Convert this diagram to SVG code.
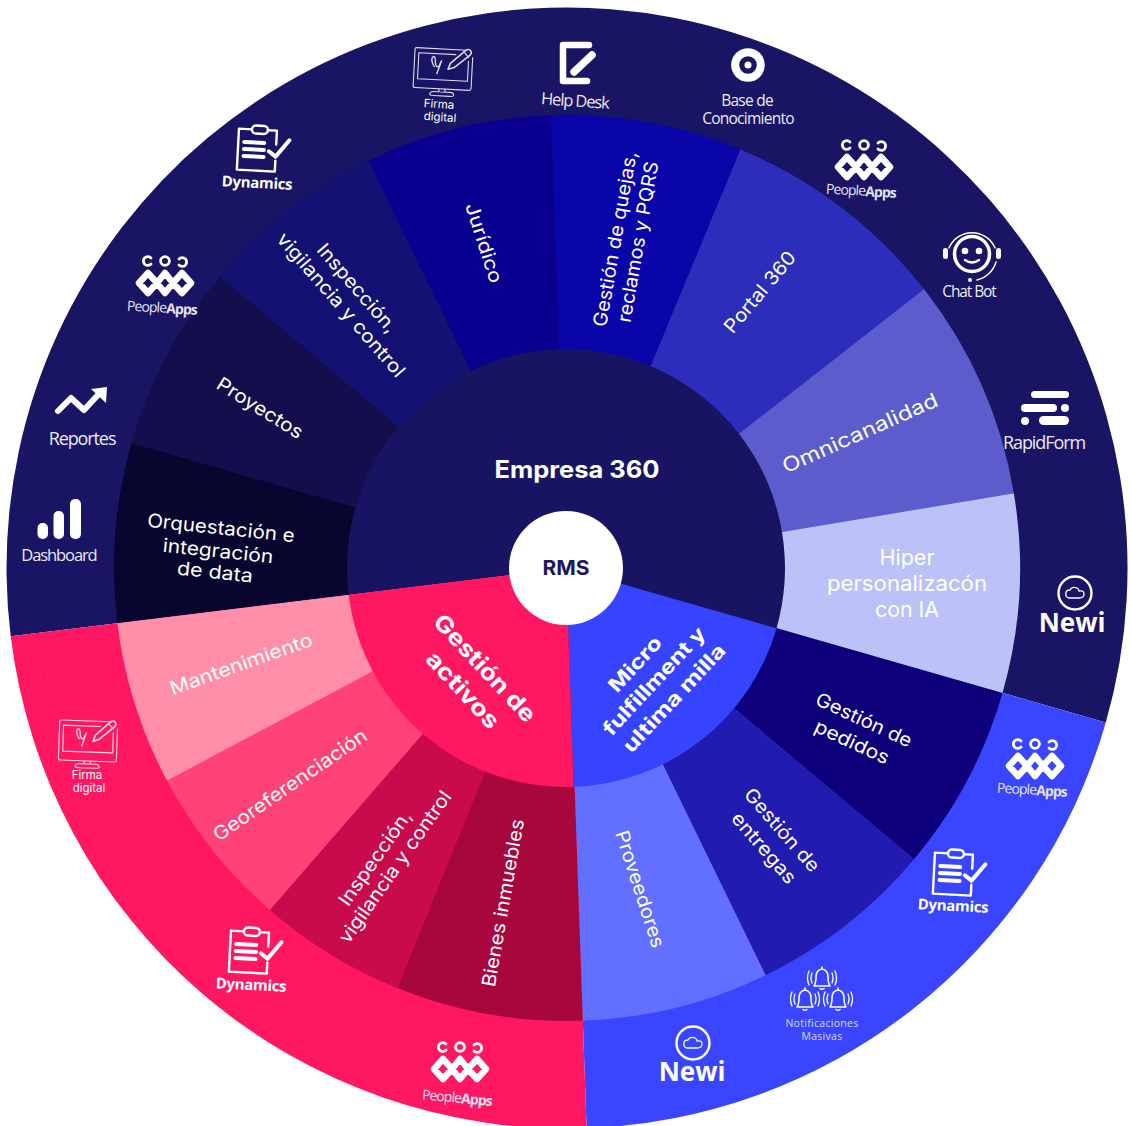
<svg xmlns="http://www.w3.org/2000/svg" width="1131" height="1126" viewBox="0 0 1131 1126">
<style>
text{font-family:"Inter","Liberation Sans",sans-serif;fill:#fff;text-anchor:middle;dominant-baseline:central}
.s{font-size:19px;font-weight:400}
.b{font-weight:700}
.o{font-family:"Open Sans","Liberation Sans",sans-serif;font-size:16.500px;letter-spacing:-1.100px;fill:#eceaf6}
.c{font-size:15.500px;letter-spacing:-.75px}
.d{font-family:"Open Sans","Liberation Sans",sans-serif;font-size:15px;font-weight:700;letter-spacing:-.3px}
.p{font-family:"Open Sans","Liberation Sans",sans-serif;font-size:14px;letter-spacing:-.9px;fill:#e4e2f2}
.f{font-size:11.500px;font-weight:400}
.n{font-family:"Open Sans","Liberation Sans",sans-serif;font-size:26px;font-weight:700}
.m{font-family:"Open Sans","Liberation Sans",sans-serif;font-size:10.500px;letter-spacing:.3px;fill:#d8dcff}
.ln{fill:none;stroke:#fff;stroke-linecap:round;stroke-linejoin:round}
</style>
<defs>
<g id="i-dyn">
<path class="ln" stroke-width="2.400" d="M-13-18H-26V23H12V12M3-18H12V-4"/>
<rect x="-13" y="-22" width="16" height="8" rx="4" fill="none" stroke="#fff" stroke-width="2.400"/>
<path class="ln" stroke-width="4" d="M-20-5H0M-20 2H0M-20 9H0"/>
<path class="ln" stroke-width="4" d="M5 3L12 8L25-9"/>
</g>
<g id="i-ppl">
<path class="ln" stroke-width="2.800" d="M-14-19A4.400 4.400 0 1 0-14-13"/>
<circle cx="0" cy="-16" r="4.400" fill="none" stroke="#fff" stroke-width="2.800"/>
<path class="ln" stroke-width="2.800" d="M14-18A4.400 4.400 0 1 1 14-12"/>
<path class="ln" stroke-width="6.500" d="M-17-4L-8 6L-17 16L-26 6ZM0-4L8 6L0 16L-8 6ZM17-4L26 6L17 16L8 6Z"/>
</g>
<g id="i-fir" stroke-width="1.100" opacity=".85">
<path class="ln" d="M22-21H-27Q-29-21-29-19V17Q-29 19-27 19H27Q29 19 29 17V-14"/>
<path class="ln" d="M12-16H-25V10H25V-10"/>
<path class="ln" d="M-3 19V22M3 19V22M-12 25Q-12 22-8 22H8Q12 22 12 25Q12 26 8 26H-8Q-12 26-12 25Z"/>
<path class="ln" stroke-width="1.400" d="M-9-3Q-14-11-10-13Q-8-13-8-7Q-7-1-4-4L-2-9L-6 4"/>
<path class="ln" stroke-width="1.600" d="M5-1L7-7L22-21Q25-23 27-20Q28-18 26-16L11-3Z"/>
<path class="ln" d="M20-19L25-14"/>
</g>
<g id="i-new">
<circle r="16.500" fill="none" stroke="#fff" stroke-width="2.400"/>
<path class="ln" stroke-width="1.300" d="M-6 5Q-10 4-9 0Q-9-3-5-3Q-3-7 2-5Q4-4 4-2Q9-3 9 1Q9 5 4 5Z"/>
</g>
<g id="i-bell">
<path class="ln" stroke-width="1.500" d="M-8 8Q-6 5-6-1Q-6-8 0-9Q6-8 6-1Q6 5 8 8ZM-2 10.500Q0 12 2 10.500M0-9V-11"/>
<path class="ln" stroke-width="1.300" d="M-10-5Q-12 0-10 5M-13-7Q-16 0-13 7M10-5Q12 0 10 5M13-7Q16 0 13 7"/>
</g>
</defs>

<g id="ring-navy"><path fill="#191464" d="M567 568L10.700 636.300A560.500 560.500 0 1 1 1105.800 722.500Z"/></g>
<g id="ring-blue"><path fill="#3A45FF" d="M567 568L1105.800 722.500A560.500 560.500 0 0 1 586.600 1128.200Z"/></g>
<g id="ring-pink"><path fill="#FF1761" d="M567 568L586.600 1128.200A560.500 560.500 0 0 1 10.700 636.300Z"/></g>
<circle cx="567" cy="568" r="534" fill="none" stroke="#000" stroke-opacity=".04"/>

<g id="orquestacion"><path fill="#08062E" d="M567 568L117.400 623.200A453 453 0 0 1 131.500 443.100Z"/>
<text class="s" transform="translate(221,528) rotate(6)" textLength="148" lengthAdjust="spacingAndGlyphs">Orquestación e</text>
<text class="s" transform="translate(218,551) rotate(6)" textLength="111" lengthAdjust="spacingAndGlyphs">integración</text>
<text class="s" transform="translate(215,572) rotate(6)" textLength="76" lengthAdjust="spacingAndGlyphs">de data</text></g>
<g id="proyectos"><path fill="#140E4C" d="M567 568L131.500 443.100A453 453 0 0 1 220 276.800Z"/>
<text class="s" transform="translate(260,408) rotate(32)" textLength="98" lengthAdjust="spacingAndGlyphs">Proyectos</text></g>
<g id="inspeccion-top"><path fill="#131272" d="M567 568L220 276.800A453 453 0 0 1 368.400 160.800Z"/>
<text class="s" transform="translate(357,288) rotate(49)" textLength="111" lengthAdjust="spacingAndGlyphs">Inspección,</text>
<text class="s" transform="translate(341,305) rotate(49)" textLength="184" lengthAdjust="spacingAndGlyphs">vigilancia y control</text></g>
<g id="juridico"><path fill="#0A0090" d="M567 568L368.400 160.800A453 453 0 0 1 551.200 115.300Z"/>
<text class="s" transform="translate(484,243) rotate(72)" textLength="83" lengthAdjust="spacingAndGlyphs">Jurídico</text></g>
<g id="quejas"><path fill="#0905A8" d="M567 568L551.200 115.300A453 453 0 0 1 740.400 149.500Z"/>
<text class="s" transform="translate(615,239) rotate(-80)" textLength="178" lengthAdjust="spacingAndGlyphs">Gestión de quejas,</text>
<text class="s" transform="translate(638,242) rotate(-80)" textLength="163" lengthAdjust="spacingAndGlyphs">reclamos y PQRS</text></g>
<g id="portal"><path fill="#2D2DBB" d="M567 568L740.400 149.500A453 453 0 0 1 924 289.100Z"/>
<text class="s" transform="translate(760,292) rotate(-50)" textLength="100" lengthAdjust="spacingAndGlyphs">Portal 360</text></g>
<g id="omnicanalidad"><path fill="#5C5CCC" d="M567 568L924 289.100A453 453 0 0 1 1013.800 493.200Z"/>
<text class="s" transform="translate(860,433) rotate(-24)" textLength="168" lengthAdjust="spacingAndGlyphs" style="font-size:20px">Omnicanalidad</text></g>
<g id="hiper"><path fill="#BCC1F8" d="M567 568L1013.800 493.200A453 453 0 0 1 1002.500 692.900Z"/>
<text class="s" x="907" y="557" textLength="55" lengthAdjust="spacingAndGlyphs" style="font-size:21px">Hiper</text>
<text class="s" x="907" y="583" textLength="160" lengthAdjust="spacingAndGlyphs" style="font-size:21px">personalizacón</text>
<text class="s" x="907" y="609" textLength="64" lengthAdjust="spacingAndGlyphs" style="font-size:21px">con IA</text></g>
<g id="pedidos"><path fill="#0D007A" d="M567 568L1002.500 692.900A453 453 0 0 1 914 859.200Z"/>
<text class="s" transform="translate(864,720) rotate(25)" textLength="104" lengthAdjust="spacingAndGlyphs">Gestión de</text>
<text class="s" transform="translate(852,742) rotate(25)" textLength="80" lengthAdjust="spacingAndGlyphs">pedidos</text></g>
<g id="entregas"><path fill="#211CAF" d="M567 568L914 859.200A453 453 0 0 1 765.600 975.200Z"/>
<text class="s" transform="translate(782,830) rotate(49)" textLength="104" lengthAdjust="spacingAndGlyphs">Gestión de</text>
<text class="s" transform="translate(764,848) rotate(49)" textLength="88" lengthAdjust="spacingAndGlyphs">entregas</text></g>
<g id="proveedores"><path fill="#6370FF" d="M567 568L765.600 975.200A453 453 0 0 1 582.800 1020.700Z"/>
<text class="s" transform="translate(640,889) rotate(72)" textLength="122" lengthAdjust="spacingAndGlyphs">Proveedores</text></g>
<g id="bienes"><path fill="#A7073D" d="M567 568L582.800 1020.700A453 453 0 0 1 397.300 988Z"/>
<text class="s" transform="translate(503,903) rotate(-80)" textLength="170" lengthAdjust="spacingAndGlyphs">Bienes inmuebles</text></g>
<g id="inspeccion-bottom"><path fill="#C90B4E" d="M567 568L397.300 988A453 453 0 0 1 269.800 909.900Z"/>
<text class="s" transform="translate(375,858) rotate(-55)" textLength="112" lengthAdjust="spacingAndGlyphs">Inspección,</text>
<text class="s" transform="translate(395,867) rotate(-55)" textLength="181" lengthAdjust="spacingAndGlyphs">vigilancia y control</text></g>
<g id="georeferenciacion"><path fill="#FF4378" d="M567 568L269.800 909.900A453 453 0 0 1 167 780.700Z"/>
<text class="s" transform="translate(290,785) rotate(-34.500)" textLength="182" lengthAdjust="spacingAndGlyphs">Georeferenciación</text></g>
<g id="mantenimiento"><path fill="#FF8FA9" d="M567 568L167 780.700A453 453 0 0 1 117.400 623.200Z"/>
<text class="s" transform="translate(241,664) rotate(-19.500)" textLength="150" lengthAdjust="spacingAndGlyphs">Mantenimiento</text></g>

<g id="empresa-360"><path fill="#181462" d="M566 568L348.600 594.700A219 219 0 1 1 776.500 628.400Z"/>
<text class="b" x="577" y="469" font-size="24" textLength="165" lengthAdjust="spacingAndGlyphs">Empresa 360</text></g>
<g id="micro"><path fill="#3644FF" d="M566 568L776.500 628.400A219 219 0 0 1 573.600 786.900Z"/>
<text class="b" transform="translate(635,664) rotate(-47)" font-size="20" textLength="68" lengthAdjust="spacingAndGlyphs">Micro</text>
<text class="b" transform="translate(654,681) rotate(-47)" font-size="20" textLength="140" lengthAdjust="spacingAndGlyphs">fulfillment y</text>
<text class="b" transform="translate(674,698) rotate(-47)" font-size="20" textLength="140" lengthAdjust="spacingAndGlyphs">ultima milla</text></g>
<g id="gestion-activos"><path fill="#FF1761" d="M566 568L573.600 786.900A219 219 0 0 1 348.600 594.700Z"/>
<text class="b" transform="translate(485,668) rotate(47)" font-size="23" textLength="138" lengthAdjust="spacingAndGlyphs">Gestión de</text>
<text class="b" transform="translate(463,690) rotate(47)" font-size="23" textLength="96" lengthAdjust="spacingAndGlyphs">activos</text></g>
<g id="rms"><circle cx="566" cy="568" r="57" fill="#fff"/>
<text class="b" x="566" y="568" font-size="20" style="fill:#1B1664" textLength="47" lengthAdjust="spacingAndGlyphs">RMS</text></g>

<g id="firma-top"><use href="#i-fir" transform="translate(443,70) rotate(3)"/>
<text class="f" transform="translate(439,104) rotate(4)">Firma</text><text class="f" transform="translate(440,117) rotate(4)">digital</text></g>
<g id="help-desk"><path class="ln" stroke-width="6.500" d="M589 45H563V81H587"/><path class="ln" stroke-width="7.500" d="M574 72L592 55"/>
<text class="o" transform="translate(575,100) rotate(4)">Help Desk</text></g>
<g id="base-conocimiento"><circle cx="748" cy="65" r="12.800" fill="none" stroke="#fff" stroke-width="8"/><circle cx="748" cy="65" r="3.500" fill="#fff"/>
<text class="o c" x="747" y="100">Base de</text><text class="o c" x="748" y="118">Conocimiento</text></g>
<g id="peopleapps-1"><use href="#i-ppl" transform="translate(864,161)"/>
<text class="p" transform="translate(861,190) rotate(3)">People<tspan font-weight="700">Apps</tspan></text></g>
<g id="chat-bot">
<circle cx="972" cy="254" r="17.500" fill="none" stroke="#fff" stroke-width="3.500"/>
<path class="ln" stroke-width="1.500" d="M949 248A25 25 0 0 1 995 248M996 262A26 26 0 0 1 977 280"/>
<rect x="943" y="248" width="5" height="11" rx="2.500" fill="#fff"/><rect x="996" y="248" width="5" height="11" rx="2.500" fill="#fff"/>
<circle cx="965" cy="251" r="3.300" fill="#fff"/><circle cx="979" cy="251" r="3.300" fill="#fff"/>
<path class="ln" stroke-width="2.500" d="M965 260Q972 265 979 260"/><circle cx="970" cy="280" r="2" fill="#fff"/>
<text class="o" x="969" y="291" style="font-size:15.500px">Chat Bot</text></g>
<g id="rapidform" fill="#fff"><rect x="1031" y="391" width="38" height="7" rx="3.500"/><rect x="1021" y="404" width="36" height="8" rx="4"/><circle cx="1065" cy="408" r="4"/><circle cx="1025" cy="421" r="4"/><rect x="1039" y="416" width="30" height="9" rx="4.500"/>
<text class="o" x="1044" y="442" style="font-size:18px">RapidForm</text></g>
<g id="newi-1"><use href="#i-new" transform="translate(1075,593)"/><text class="n" x="1072" y="622">Newi</text></g>
<g id="peopleapps-2"><use href="#i-ppl" transform="translate(1035,760)"/>
<text class="p" transform="translate(1032,789) rotate(3)">People<tspan font-weight="700">Apps</tspan></text></g>
<g id="dynamics-1"><use href="#i-dyn" transform="translate(960,872) rotate(3)"/><text class="d" transform="translate(953,905) rotate(3)">Dynamics</text></g>
<g id="notificaciones"><use href="#i-bell" transform="translate(822,978)"/><use href="#i-bell" transform="translate(805,999)"/><use href="#i-bell" transform="translate(838,999)"/>
<text class="m" x="822" y="1023">Notificaciones</text><text class="m" x="822" y="1036">Masivas</text></g>
<g id="newi-2"><use href="#i-new" transform="translate(693,1043)"/><text class="n" x="692" y="1071">Newi</text></g>
<g id="peopleapps-3"><use href="#i-ppl" transform="translate(460,1063)"/>
<text class="p" transform="translate(457,1097) rotate(5)">People<tspan font-weight="700">Apps</tspan></text></g>
<g id="dynamics-2"><use href="#i-dyn" transform="translate(256,950) rotate(3)"/><text class="d" transform="translate(251,984) rotate(3)">Dynamics</text></g>
<g id="firma-bottom"><use href="#i-fir" transform="translate(88,742) rotate(2)"/>
<text class="f" x="87" y="775">Firma</text><text class="f" x="89" y="788">digital</text></g>
<g id="dashboard" fill="#fff"><rect x="37.500" y="523" width="10.500" height="16" rx="5"/><rect x="53.500" y="511" width="10.500" height="28" rx="5"/><rect x="70" y="499" width="11" height="40" rx="5"/>
<text class="o" x="59" y="554">Dashboard</text></g>
<g id="reportes"><path class="ln" stroke-width="6" d="M58 411L71 398L84 410L97 396"/><path fill="#fff" d="M91 389L107 387L106 403Z"/>
<text class="o" x="82" y="438" style="font-size:18px">Reportes</text></g>
<g id="peopleapps-4"><use href="#i-ppl" transform="translate(165,277)"/>
<text class="p" transform="translate(162,307) rotate(3)">People<tspan font-weight="700">Apps</tspan></text></g>
<g id="dynamics-3"><use href="#i-dyn" transform="translate(264,148) rotate(3)"/><text class="d" transform="translate(257,182) rotate(3)">Dynamics</text></g>
</svg>
